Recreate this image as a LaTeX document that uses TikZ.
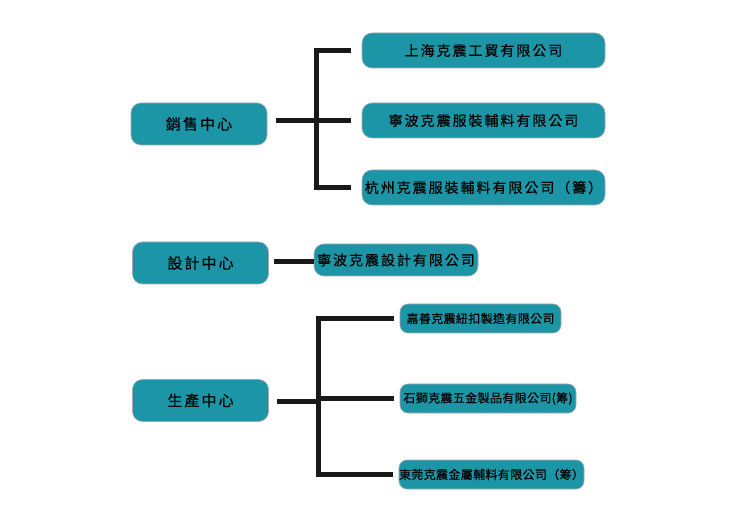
\documentclass[tikz,border=0pt]{standalone}
\usepackage{fontspec}
\newfontfamily\cjk[LetterSpace=14,FakeBold=0.4]{Noto Sans CJK TC}
\newfontfamily\cjknarrow[LetterSpace=3,FakeBold=0.3]{Noto Sans CJK TC}
\usetikzlibrary{calc}
\definecolor{boxteal}{RGB}{28,150,166}

\begin{document}
\begin{tikzpicture}[x=1pt,y=-1pt,
  unit/.style={draw=gray!70, line width=0.6pt, fill=boxteal, rounded corners=10pt, inner sep=0pt, text=black},
  bigbox/.style={unit, minimum width=136pt, minimum height=42pt, font=\cjk\fontsize{15}{17}\selectfont},
  sub/.style={unit, minimum width=243pt, minimum height=35pt, font=\cjk\fontsize{14}{16}\selectfont},
  small/.style={unit, minimum height=29pt, rounded corners=8pt, font=\cjknarrow\fontsize{12}{14}\selectfont},
  link/.style={line width=5pt, black!90, line cap=rect}]
\useasboundingbox (0,0) rectangle (750,529);
\node[bigbox] (xiao) at (199,124) {銷售中心};
\node[sub] (a1) at (483.5,50.5) {上海克震工貿有限公司};
\node[sub] (a2) at (483.5,120.5) {寧波克震服裝輔料有限公司};
\node[sub] (a3) at (483.5,187.5) {杭州克震服裝輔料有限公司（籌）};
\coordinate (s1) at (316,121);
\draw[link, shorten <=11pt] (xiao.east |- s1) -- (s1);
\draw[link] (s1 |- a1) -- (s1 |- a3);
\foreach \n in {a1,a2,a3}
  \draw[link, shorten >=13pt] (s1 |- \n) -- (\n.west);

\node[bigbox] (sheji) at (200.5,263) {設計中心};
\node[unit, minimum width=164pt, minimum height=32pt, font=\cjk\fontsize{14}{16}\selectfont] (b1) at (396,260) {寧波克震設計有限公司};
\coordinate (l1) at (0,262);
\draw[link, shorten <=8pt, shorten >=2.5pt] (sheji.east |- l1) -- (b1.west |- l1);

\node[bigbox] (shengchan) at (200.5,400.5) {生產中心};
\node[small, minimum width=161pt] (c1) at (480.5,318.5) {嘉善克震紐扣製造有限公司};
\node[small, minimum width=176pt] (c2) at (488,398.5) {石獅克震五金製品有限公司(筹)};
\node[small, minimum width=183pt] (c3) at (491.5,474.5) {東莞克震金屬輔料有限公司（筹）};
\coordinate (s2) at (318,401);
\draw[link, shorten <=11pt] (shengchan.east |- s2) -- (s2);
\draw[link] (s2 |- c1) -- (s2 |- c3);
\foreach \n in {c1,c2,c3}
  \draw[link, shorten >=8.5pt] (s2 |- \n) -- (\n.west);
\end{tikzpicture}
\end{document}
